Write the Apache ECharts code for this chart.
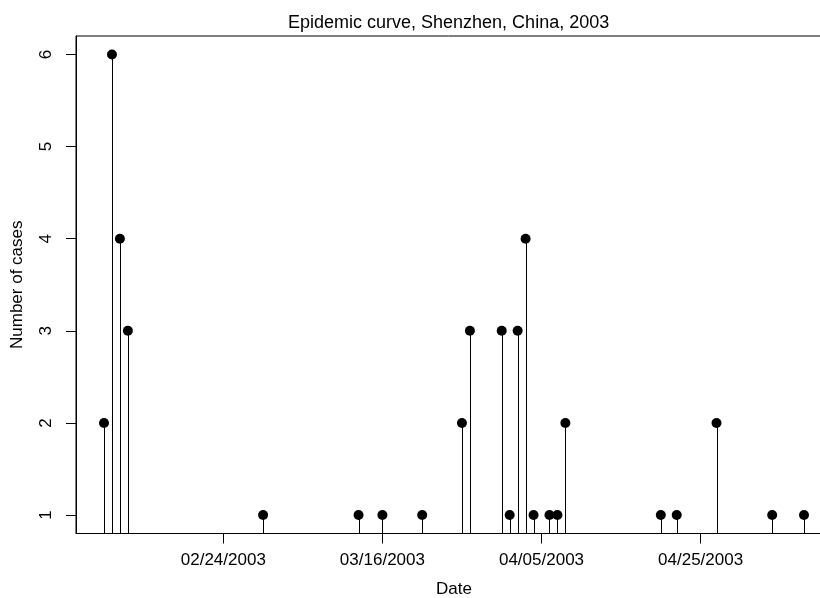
<!DOCTYPE html>
<html>
<head>
<meta charset="utf-8">
<script src="https://cdn.jsdelivr.net/npm/echarts@6/dist/echarts.min.js"></script>
<style>
html,body{margin:0;padding:0;background:#fff;}
#main{width:820px;height:598px;}
</style>
</head>
<body>
<div id="main"></div>
<script>
// ---- data ----
var dates = ["2003-02-09","2003-02-10","2003-02-11","2003-02-12","2003-03-01","2003-03-13","2003-03-16","2003-03-21","2003-03-26","2003-03-27","2003-03-31","2003-04-01","2003-04-02","2003-04-03","2003-04-04","2003-04-06","2003-04-07","2003-04-08","2003-04-20","2003-04-22","2003-04-27","2003-05-04","2003-05-08"];
var cases = [2,6,4,3,1,1,1,1,2,3,3,1,3,4,1,1,1,2,1,1,2,1,1];
var xTickDates = ["2003-02-24","2003-03-16","2003-04-05","2003-04-25"];
var xTickLabels = ["02/24/2003","03/16/2003","04/05/2003","04/25/2003"];
var yTicks = [1,2,3,4,5,6];

function dayNum(s){ var p=s.split('-'); return Date.UTC(+p[0],+p[1]-1,+p[2])/86400000; }
var xs = dates.map(dayNum);
var pts = xs.map(function(x,i){ return [x, cases[i]]; });
var xMin = Math.min.apply(null, xs), xMax = Math.max.apply(null, xs);
var xPad = (xMax - xMin) * 0.04;
var yMinD = Math.min.apply(null, cases), yMaxD = Math.max.apply(null, cases);
var yPad = (yMaxD - yMinD) * 0.04;
var yLo = yMinD - yPad, yHi = yMaxD + yPad;
var xTickVals = xTickDates.map(dayNum);

var font = "'Liberation Sans', Arial, sans-serif";
var chart = echarts.init(document.getElementById('main'), null, {renderer:'canvas'});
chart.setOption({
  animation:false,
  backgroundColor:'#fff',
  title:{
    text:'Epidemic curve, Shenzhen, China, 2003',
    left:283, top:9,
    textStyle:{fontFamily:font, fontSize:18, fontWeight:'normal', color:'#000'}
  },
  grid:{left:76, top:36, width:756, height:497.5, show:true, borderColor:'#000', borderWidth:1,
        containLabel:false, outerBoundsMode:'none'},
  xAxis:{
    type:'value', min:xMin - xPad, max:xMax + xPad,
    name:'Date', nameLocation:'middle', nameGap:47,
    nameTextStyle:{fontFamily:font, fontSize:17, color:'#000'},
    axisLine:{show:true, onZero:false, lineStyle:{color:'#000', width:1}},
    axisTick:{show:true, inside:false, length:10, customValues:xTickVals, lineStyle:{color:'#000'}},
    axisLabel:{show:true, margin:18, customValues:xTickVals, fontFamily:font, fontSize:17, color:'#000',
      formatter:function(v){ var i = xTickVals.indexOf(v); return i>=0 ? xTickLabels[i] : ''; }},
    splitLine:{show:false}
  },
  yAxis:{
    type:'value', min:yLo, max:yHi,
    name:'Number of cases', nameLocation:'middle', nameGap:50, nameRotate:90,
    nameTextStyle:{fontFamily:font, fontSize:17, color:'#000'},
    axisLine:{show:true, lineStyle:{color:'#000', width:1}},
    axisTick:{show:true, inside:false, length:10, customValues:yTicks, lineStyle:{color:'#000'}},
    axisLabel:{show:true, rotate:90, margin:21, customValues:yTicks, fontFamily:font, fontSize:17, color:'#000',
      formatter:function(v){ return String(v); }},
    splitLine:{show:false}
  },
  series:[
    {
      type:'custom',
      data:pts,
      clip:true,
      renderItem:function(params, api){
        var top = api.coord([api.value(0), api.value(1)]);
        var bot = api.coord([api.value(0), yLo]);
        var x = Math.round(top[0]) + 0.5;
        return {type:'line', shape:{x1:x, y1:bot[1], x2:x, y2:top[1]}, style:{stroke:'#000', lineWidth:1}};
      },
      z:2
    },
    {
      type:'scatter',
      data:pts,
      symbol:'circle',
      symbolSize:10,
      itemStyle:{color:'#000', opacity:1},
      z:3
    }
  ]
});
</script>
</body>
</html>
